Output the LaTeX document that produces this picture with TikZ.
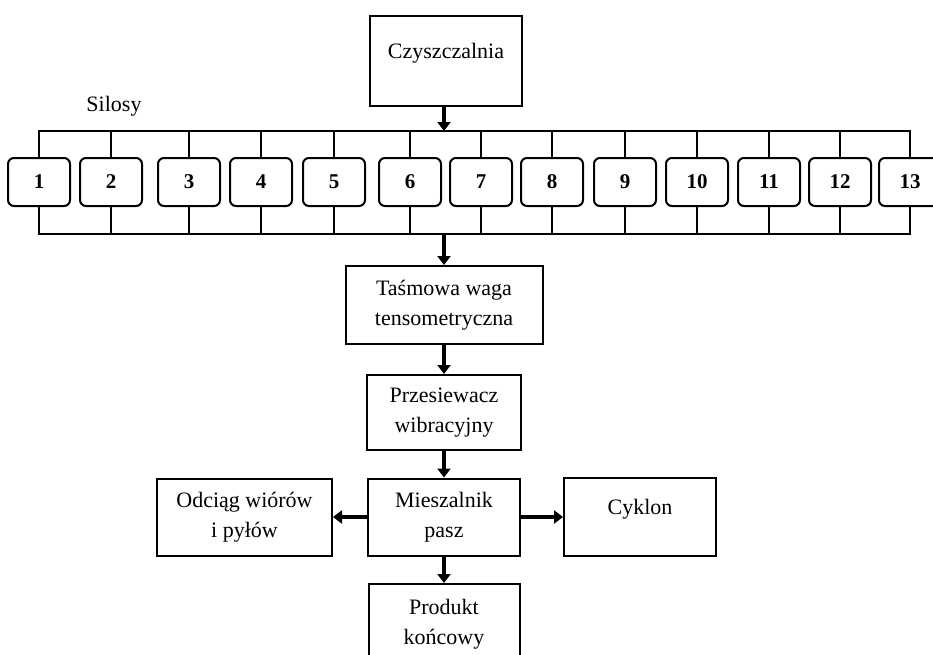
\documentclass[tikz,border=0pt]{standalone}
\usepackage{fontspec}
\setmainfont{Liberation Serif}
\usetikzlibrary{arrows.meta}
\begin{document}
\begin{tikzpicture}[x=1pt,y=-1pt,
  box/.style={draw,line width=2pt,inner sep=0pt,align=center,font=\fontsize{22}{30}\selectfont},
  silo/.style={draw,line width=2pt,rounded corners=6pt,minimum width=62pt,minimum height=48pt,inner sep=0pt,font=\fontsize{21}{24}\selectfont\bfseries},
  bus/.style={line width=2pt},
  flow/.style={line width=4.5pt,-{Triangle[length=9pt,width=13pt]}}]
\useasboundingbox (0,0) rectangle (933,654);
\clip (0,0) rectangle (933,654);
\node[anchor=center,font=\fontsize{22}{24}\selectfont] (silosy) at (114,106) {Silosy};
\node[box,minimum width=152pt,minimum height=90pt] (czy) at (446,61) {\raisebox{0pt}[0pt][6pt]{Czyszczalnia}};
\foreach \n/\x in {1/39,2/111,3/189,4/261,5/334,6/410,7/481,8/552,9/625,10/697,11/769,12/840,13/910}
  \node[silo] (s\n) at (\x,182) {\n};
\coordinate (tb) at (0,131);
\coordinate (bb) at (0,234);
\draw[bus] (s1.north) |- (tb -| s13.north) -- (s13.north);
\draw[bus] (s1.south) |- (bb -| s13.south) -- (s13.south);
\foreach \n in {2,...,12} {
  \draw[bus] (s\n.north) -- (s\n.north |- tb);
  \draw[bus] (s\n.south) -- (s\n.south |- bb);
}
\node[box,minimum width=197pt,minimum height=78pt] (tw) at (444,305) {Taśmowa waga\\tensometryczna};
\node[box,minimum width=154pt,minimum height=75pt] (prz) at (444,412.5) {Przesiewacz\\wibracyjny};
\node[box,minimum width=152pt,minimum height=77pt] (mix) at (444,517) {Mieszalnik\\pasz};
\node[box,minimum width=175pt,minimum height=77pt] (odc) at (244.5,517) {Odciąg wiórów\\i pyłów};
\node[box,minimum width=152pt,minimum height=78pt] (cyk) at (640,517) {\raisebox{0pt}[0pt][6pt]{Cyklon}};
\node[box,minimum width=151pt,minimum height=80pt] (prod) at (444,624) {Produkt\\końcowy};
\draw[flow] (czy.south -| tw.north) -- (tw.north |- tb);
\draw[flow] (tw.north |- bb) -- (tw.north);
\draw[flow] (tw.south) -- (prz.north);
\draw[flow] (prz.south) -- (mix.north);
\draw[flow] (mix.west) -- (odc.east);
\draw[flow] (mix.east) -- (cyk.west);
\draw[flow] (mix.south) -- (prod.north);
\end{tikzpicture}
\end{document}
